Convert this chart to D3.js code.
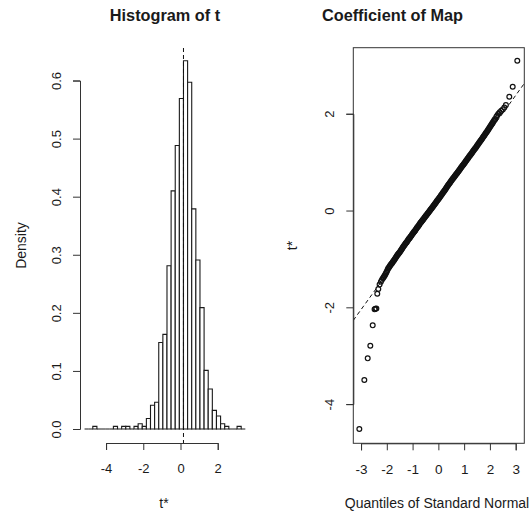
<!DOCTYPE html>
<meta charset="utf-8">
<style>
  body { margin: 0; background: #fff; }
  text { font-family: "Liberation Sans", Arial, sans-serif; fill: #1a1a1a; }
  .axis path, .axis line { stroke: #333; }
</style>
<body>
<script src="https://d3js.org/d3.v7.min.js"></script>
<script>
var width = 530,
    height = 513;

// histogram of the bootstrap replicates t*
var t0 = 0.16;          // original statistic, dashed line
var binWidth = 0.2215;  // breaks are t0 + k * binWidth
var firstBin = -24;
var density = [
  0, 0, 0.0045, 0, 0, 0, 0, 0.0045, 0, 0.0045, 0.0045, 0, 0.0045, 0.009, 0.0045,
  0.018, 0.041, 0.046, 0.149, 0.163, 0.281, 0.410, 0.488, 0.569, 0.634, 0.597,
  0.379, 0.291, 0.209, 0.101, 0.069, 0.032, 0.0225, 0.009, 0.0045, 0, 0, 0.0045, 0
];
var histXTicks = [-4, -2, 0, 2];
var histYTicks = [0, 0.1, 0.2, 0.3, 0.4, 0.5, 0.6];
var histXlim = [-5.40, 3.82],
    histYlim = [-0.0241, 0.656];

// normal QQ plot
var qqTheoretical = [
  -3.066, -2.872, -2.741, -2.640, -2.547, -2.475, -2.44, -2.405, -2.37, -2.33, -2.28, -2.23, -2.19,
  -2.15, -2.125, -2.10, -2.075, -2.05, -2.025, -2.00, -1.975, -1.95, -1.925, -1.90, -1.875,
  -1.85, -1.825, -1.80, -1.775, -1.75, -1.725, -1.70, -1.675, -1.65, -1.625, -1.60, -1.575,
  -1.55, -1.525, -1.50, -1.475, -1.45, -1.425, -1.40, -1.375, -1.35, -1.325, -1.30, -1.275,
  -1.25, -1.225, -1.20, -1.175, -1.15, -1.125, -1.10, -1.075, -1.05, -1.025, -1.00, -0.975,
  -0.95, -0.925, -0.90, -0.875, -0.85, -0.825, -0.80, -0.775, -0.75, -0.725, -0.70, -0.675,
  -0.65, -0.625, -0.60, -0.575, -0.55, -0.525, -0.50, -0.475, -0.45, -0.425, -0.40, -0.375,
  -0.35, -0.325, -0.30, -0.275, -0.25, -0.225, -0.20, -0.175, -0.15, -0.125, -0.10, -0.075,
  -0.05, -0.025, 0.00, 0.025, 0.05, 0.075, 0.10, 0.125, 0.15, 0.175, 0.20, 0.225,
  0.25, 0.275, 0.30, 0.325, 0.35, 0.375, 0.40, 0.425, 0.45, 0.475, 0.50, 0.525,
  0.55, 0.575, 0.60, 0.625, 0.65, 0.675, 0.70, 0.725, 0.75, 0.775, 0.80, 0.825,
  0.85, 0.875, 0.90, 0.925, 0.95, 0.975, 1.00, 1.025, 1.05, 1.075, 1.10, 1.125,
  1.15, 1.175, 1.20, 1.225, 1.25, 1.275, 1.30, 1.325, 1.35, 1.375, 1.40, 1.425,
  1.45, 1.475, 1.50, 1.525, 1.55, 1.575, 1.60, 1.625, 1.65, 1.675, 1.70, 1.725,
  1.75, 1.775, 1.80, 1.825, 1.85, 1.875, 1.90, 1.925, 1.95, 1.975, 2.00, 2.025,
  2.05, 2.075, 2.10, 2.125, 2.15, 2.175, 2.20,
  2.25, 2.29, 2.33, 2.38, 2.44, 2.50, 2.56, 2.62, 2.752, 2.884, 3.062
];
var qqSample = [
  -4.516, -3.503, -3.055, -2.795, -2.373, -2.042, -2.03, -2.022, -1.72, -1.62, -1.53, -1.47, -1.43,
  -1.40, -1.38, -1.36, -1.335, -1.31, -1.285, -1.26, -1.23, -1.20, -1.18, -1.16, -1.14,
  -1.12, -1.105, -1.09, -1.07, -1.05, -1.03, -1.01, -0.99, -0.97, -0.95, -0.93, -0.91,
  -0.895, -0.878, -0.86, -0.84, -0.82, -0.80, -0.78, -0.76, -0.74, -0.72, -0.70, -0.683,
  -0.665, -0.648, -0.63, -0.61, -0.59, -0.573, -0.555, -0.538, -0.52, -0.50, -0.48, -0.463,
  -0.445, -0.428, -0.41, -0.39, -0.37, -0.353, -0.335, -0.318, -0.30, -0.28, -0.26, -0.243,
  -0.225, -0.208, -0.19, -0.173, -0.155, -0.138, -0.12, -0.103, -0.085, -0.068, -0.05, -0.033,
  -0.015, 0.003, 0.02, 0.038, 0.055, 0.073, 0.09, 0.108, 0.125, 0.143, 0.16, 0.18,
  0.20, 0.218, 0.235, 0.253, 0.27, 0.29, 0.31, 0.328, 0.345, 0.365, 0.385, 0.403,
  0.42, 0.44, 0.46, 0.48, 0.50, 0.52, 0.54, 0.558, 0.575, 0.595, 0.615, 0.633,
  0.65, 0.668, 0.685, 0.703, 0.72, 0.738, 0.755, 0.773, 0.79, 0.808, 0.825, 0.845,
  0.865, 0.883, 0.90, 0.918, 0.935, 0.953, 0.97, 0.99, 1.01, 1.028, 1.045, 1.063,
  1.08, 1.10, 1.12, 1.138, 1.155, 1.173, 1.19, 1.21, 1.23, 1.248, 1.265, 1.283,
  1.30, 1.32, 1.34, 1.358, 1.375, 1.395, 1.415, 1.433, 1.45, 1.47, 1.49, 1.51,
  1.53, 1.548, 1.565, 1.585, 1.605, 1.625, 1.645, 1.665, 1.685, 1.705, 1.725, 1.748,
  1.77, 1.79, 1.81, 1.83, 1.85, 1.87, 1.89,
  1.94, 1.97, 2.00, 2.03, 2.06, 2.09, 2.13, 2.18, 2.352, 2.559, 3.096
];
var qqMean = 0.166,   // dashed reference line: mean + sd * z
    qqSd = 0.738;
var qqXTicks = [-3, -2, -1, 0, 1, 2, 3];
var qqYTicks = [-4, -2, 0, 2];
var qqXlim = [-3.30, 3.334],
    qqYlim = [-4.81, 3.365];

var svg = d3.select("body").append("svg")
    .attr("width", width)
    .attr("height", height);

// R style labels: plain hyphen minus
var plain = function(d) { return String(d); };

// ---------- left panel: histogram ----------
var hx = d3.scaleLinear().domain(histXlim).range([80, 251.6]);
var hy = d3.scaleLinear().domain(histYlim).range([443, 48]);

var bins = density.map(function(d, i) {
  var k = firstBin + i;
  return { x0: t0 + k * binWidth, x1: t0 + (k + 1) * binWidth, d: d };
});

var left = svg.append("g");

left.selectAll("path.bar")
    .data(bins)
  .enter().append("path")
    .attr("class", "bar")
    .attr("d", function(b) {
      return "M" + hx(b.x0) + "," + hy(0) + "V" + hy(b.d) + "H" + hx(b.x1) + "V" + hy(0) + "Z";
    })
    .attr("fill", "#fff")
    .attr("stroke", "#1a1a1a")
    .attr("stroke-width", 1.1);

left.append("line")
    .attr("x1", hx(t0)).attr("x2", hx(t0))
    .attr("y1", hy(histYlim[1])).attr("y2", hy(histYlim[0]))
    .attr("stroke", "#111")
    .attr("stroke-dasharray", "4,3");

var hxAxisScale = hx.copy().domain([-4, 2]).range([hx(-4), hx(2)]);
var hyAxisScale = hy.copy().domain([0, 0.6]).range([hy(0), hy(0.6)]);

left.append("g")
    .attr("class", "axis")
    .attr("transform", "translate(0," + hy(histYlim[0]) + ")")
    .call(d3.axisBottom(hxAxisScale).tickValues(histXTicks).tickFormat(plain)
      .tickSizeOuter(0).tickSize(7).tickPadding(14))
    .attr("font-size", 13)
    .attr("font-family", null);

left.append("g")
    .attr("class", "axis")
    .attr("transform", "translate(" + hx(histXlim[0]) + ",0)")
    .call(d3.axisLeft(hyAxisScale).tickValues(histYTicks).tickFormat(d3.format(".1f"))
      .tickSizeOuter(0).tickSize(7))
    .attr("font-size", 13)
    .attr("font-family", null)
  .selectAll(".tick text")
    .attr("transform", "rotate(-90)")
    .attr("x", 0)
    .attr("y", -19.5)
    .attr("dy", 0)
    .attr("text-anchor", "middle");

left.append("text")
    .attr("x", 165).attr("y", 20.5)
    .attr("text-anchor", "middle")
    .attr("font-weight", "bold")
    .attr("font-size", 16.3)
    .text("Histogram of t");

left.append("text")
    .attr("x", 164).attr("y", 508)
    .attr("text-anchor", "middle")
    .attr("font-size", 14)
    .text("t*");

left.append("text")
    .attr("transform", "translate(26,245.5) rotate(-90)")
    .attr("text-anchor", "middle")
    .attr("font-size", 14)
    .text("Density");

// ---------- right panel: normal QQ ----------
var qx = d3.scaleLinear().domain(qqXlim).range([353.3, 524.3]);
var qy = d3.scaleLinear().domain(qqYlim).range([443.3, 47.7]);

var right = svg.append("g");

right.append("clipPath")
    .attr("id", "qqclip")
  .append("rect")
    .attr("x", qx(qqXlim[0])).attr("y", qy(qqYlim[1]))
    .attr("width", qx(qqXlim[1]) - qx(qqXlim[0]))
    .attr("height", qy(qqYlim[0]) - qy(qqYlim[1]));

right.append("line")
    .attr("clip-path", "url(#qqclip)")
    .attr("x1", qx(qqXlim[0])).attr("y1", qy(qqMean + qqSd * qqXlim[0]))
    .attr("x2", qx(qqXlim[1])).attr("y2", qy(qqMean + qqSd * qqXlim[1]))
    .attr("stroke", "#111")
    .attr("stroke-dasharray", "4,3");

right.selectAll("circle")
    .data(qqSample)
  .enter().append("circle")
    .attr("cx", function(d, i) { return qx(qqTheoretical[i]); })
    .attr("cy", function(d) { return qy(d); })
    .attr("r", 2.4)
    .attr("fill", "none")
    .attr("stroke", "#111")
    .attr("stroke-width", 1.2);

right.append("rect")
    .attr("x", qx(qqXlim[0])).attr("y", qy(qqYlim[1]))
    .attr("width", qx(qqXlim[1]) - qx(qqXlim[0]))
    .attr("height", qy(qqYlim[0]) - qy(qqYlim[1]))
    .attr("fill", "none")
    .attr("stroke", "#333");

right.append("g")
    .attr("class", "axis")
    .attr("transform", "translate(0," + qy(qqYlim[0]) + ")")
    .call(d3.axisBottom(qx.copy().domain([-3, 3]).range([qx(-3), qx(3)]))
      .tickValues(qqXTicks).tickFormat(plain).tickSizeOuter(0).tickSize(7).tickPadding(14))
    .attr("font-size", 13.5)
    .attr("font-family", null);

right.append("g")
    .attr("class", "axis")
    .attr("transform", "translate(" + qx(qqXlim[0]) + ",0)")
    .call(d3.axisLeft(qy.copy().domain([-4, 2]).range([qy(-4), qy(2)]))
      .tickValues(qqYTicks).tickFormat(plain).tickSizeOuter(0).tickSize(7))
    .attr("font-size", 13)
    .attr("font-family", null)
  .selectAll(".tick text")
    .attr("transform", "rotate(-90)")
    .attr("x", 0)
    .attr("y", -19.5)
    .attr("dy", 0)
    .attr("text-anchor", "middle");

right.append("text")
    .attr("x", 392.5).attr("y", 21)
    .attr("text-anchor", "middle")
    .attr("font-weight", "bold")
    .attr("font-size", 16.3)
    .text("Coefficient of Map");

right.append("text")
    .attr("x", 437).attr("y", 508)
    .attr("text-anchor", "middle")
    .attr("font-size", 14)
    .text("Quantiles of Standard Normal");

right.append("text")
    .attr("transform", "translate(297,245.5) rotate(-90)")
    .attr("text-anchor", "middle")
    .attr("font-size", 14)
    .text("t*");
</script>
</body>
